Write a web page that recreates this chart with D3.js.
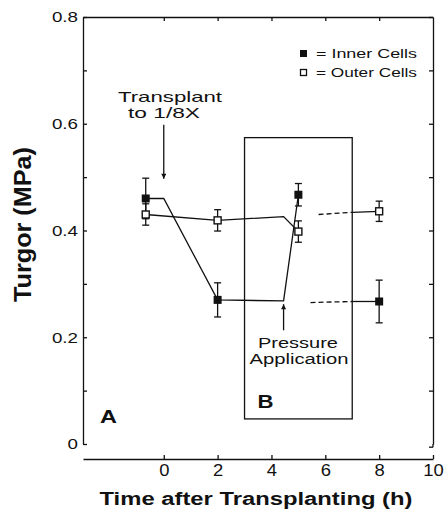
<!DOCTYPE html>
<html>
<head>
<meta charset="utf-8">
<script src="https://cdn.jsdelivr.net/npm/d3@7"></script>
<style>
  body { margin: 0; background: #fff; }
  svg { display: block; font-family: "Liberation Sans", Arial, sans-serif; }
</style>
</head>
<body>
<svg id="chart" width="445" height="513"></svg>
<script>
// Turgor of inner and outer cells after transplanting to 1/8X
const times = [-0.67, 2, 5, 8]
const innerTurgor = [0.46, 0.27, 0.467, 0.267]
const innerErr = [0.038, 0.032, 0.021, 0.04]
const outerTurgor = [0.43, 0.419, 0.398, 0.436]
const outerErr = [0.02, 0.02, 0.02, 0.019]

// connecting lines as drawn in the figure (time, turgor)
const innerLine = [[-0.67, 0.46], [0, 0.46], [2, 0.27], [4.45, 0.268], [5, 0.467]]
const innerDashed = [[5.45, 0.265], [7, 0.267]]
const innerTail = [[7, 0.267], [8, 0.267]]
const outerLine = [[-0.67, 0.43], [2, 0.419], [4.45, 0.426], [5, 0.398]]
const outerDashed = [[5.75, 0.43], [7, 0.434]]
const outerTail = [[7, 0.434], [8, 0.436]]

const boxB = {x0: 3, x1: 7, y0: 0.047, y1: 0.574}
const yTicksMajor = [0, 0.2, 0.4, 0.6, 0.8]
const yTicksMinor = [0, 0.1, 0.2, 0.3, 0.4, 0.5, 0.6, 0.7, 0.8]
const xTicks = [0, 2, 4, 6, 8, 10]
const xTicksTop = [0, 2, 4, 6, 8]

const svg = d3.select("#chart")
const x = d3.scaleLinear().domain([-3, 10]).range([83, 433])
const y = d3.scaleLinear().domain([0, 0.8]).range([444, 17])

// stretch text wide like the scanned figure
const widen = (sel, k) => sel.each(function () {
  const w = this.getComputedTextLength()
  d3.select(this).attr("textLength", w * k).attr("lengthAdjust", "spacingAndGlyphs")
})

const styleAxis = g => {
  g.selectAll("path").attr("stroke", "#111").attr("stroke-width", 1.3)
  g.selectAll("line").attr("stroke", "#111").attr("stroke-width", 1.3)
}

// left axis: ticks inward, labels outside
svg.append("g").attr("transform", `translate(${x(-3)},0)`)
  .call(d3.axisRight(y).tickValues(yTicksMinor).tickSize(4).tickSizeOuter(0).tickFormat(""))
  .call(styleAxis)
const yLab = svg.append("g").attr("transform", `translate(${x(-3)},0)`)
  .call(d3.axisLeft(y).tickValues(yTicksMajor).tickSize(0).tickPadding(5)
    .tickFormat(d => d === 0 ? "0" : d3.format(".1f")(d)))
yLab.select(".domain").remove()
yLab.selectAll("text").attr("font-size", 15).attr("fill", "#111").attr("font-family", "Liberation Sans")
widen(yLab.selectAll("text"), 1.25)

// right axis
svg.append("g").attr("transform", `translate(${x(10)},0)`)
  .call(d3.axisLeft(y).tickValues(yTicksMinor.slice(1)).tickSize(4).tickSizeOuter(0).tickFormat(""))
  .call(styleAxis)
svg.append("line").attr("x1", x(10)).attr("x2", x(10)).attr("y1", y(0)).attr("y2", y(-0.006))
  .attr("stroke", "#111").attr("stroke-width", 1.3)
svg.append("line").attr("x1", x(10)).attr("x2", x(10) - 4).attr("y1", y(-0.006)).attr("y2", y(-0.006))
  .attr("stroke", "#111").attr("stroke-width", 1.3)

// top axis
svg.append("g").attr("transform", `translate(0,${y(0.8)})`)
  .call(d3.axisBottom(x).tickValues(xTicksTop).tickSize(4).tickSizeOuter(0).tickFormat(""))
  .call(styleAxis)

// bottom axis, offset below the frame
const xAxisY = 459
svg.append("g").attr("transform", `translate(0,${xAxisY})`)
  .call(d3.axisTop(x).tickValues(xTicks).tickSize(4).tickSizeOuter(0).tickFormat(""))
  .call(styleAxis)
const xLab = svg.append("g").attr("transform", `translate(0,${xAxisY})`)
  .call(d3.axisBottom(x).tickValues(xTicks).tickSize(0).tickFormat(d3.format("d")))
xLab.select(".domain").remove()
xLab.selectAll("text").attr("font-size", 16).attr("fill", "#111").attr("y", 17).attr("dy", null)
  .attr("font-family", "Liberation Sans")
widen(xLab.selectAll("text"), 1.15)

// box B
svg.append("rect")
  .attr("x", x(boxB.x0)).attr("y", y(boxB.y1))
  .attr("width", x(boxB.x1) - x(boxB.x0)).attr("height", y(boxB.y0) - y(boxB.y1))
  .attr("fill", "none").attr("stroke", "#111").attr("stroke-width", 1.3)

// lines
const line = d3.line().x(d => x(d[0])).y(d => y(d[1]))
const addLine = (pts, dash) => svg.append("path").attr("d", line(pts))
  .attr("fill", "none").attr("stroke", "#111").attr("stroke-width", 1.3)
  .attr("stroke-dasharray", dash ? "5,3" : null)
addLine(innerLine)
addLine(outerLine)
addLine(innerDashed, true)
addLine(innerTail)
addLine(outerDashed, true)
addLine(outerTail)

// error bars
const errBars = (vals, errs) => {
  const g = svg.append("g").attr("stroke", "#111").attr("stroke-width", 1.3)
  times.forEach((t, i) => {
    const lo = y(vals[i] - errs[i]), hi = y(vals[i] + errs[i]), cx = x(t)
    g.append("line").attr("x1", cx).attr("x2", cx).attr("y1", lo).attr("y2", hi)
    g.append("line").attr("x1", cx - 3.5).attr("x2", cx + 3.5).attr("y1", lo).attr("y2", lo)
    g.append("line").attr("x1", cx - 3.5).attr("x2", cx + 3.5).attr("y1", hi).attr("y2", hi)
  })
}
errBars(innerTurgor, innerErr)
errBars(outerTurgor, outerErr)

const ms = 8
svg.append("g").selectAll("rect").data(times).join("rect")
  .attr("x", d => x(d) - ms / 2).attr("y", (d, i) => y(innerTurgor[i]) - ms / 2)
  .attr("width", ms).attr("height", ms).attr("fill", "#111")
svg.append("g").selectAll("rect").data(times).join("rect")
  .attr("x", d => x(d) - ms / 2 + 0.5).attr("y", (d, i) => y(outerTurgor[i]) - ms / 2 + 0.5)
  .attr("width", ms - 1).attr("height", ms - 1).attr("fill", "#fff")
  .attr("stroke", "#111").attr("stroke-width", 1.4)

// arrows
svg.append("defs").append("marker").attr("id", "ah")
  .attr("viewBox", "0 0 10 10").attr("refX", 10).attr("refY", 5)
  .attr("markerWidth", 8).attr("markerHeight", 5).attr("markerUnits", "userSpaceOnUse")
  .attr("orient", "auto")
  .append("path").attr("d", "M0,0L10,5L0,10Z").attr("fill", "#111")
const arrow = (t, v0, v1) => svg.append("line")
  .attr("x1", x(t)).attr("x2", x(t)).attr("y1", y(v0)).attr("y2", y(v1))
  .attr("stroke", "#111").attr("stroke-width", 1.3).attr("marker-end", "url(#ah)")
arrow(0, 0.598, 0.497)
arrow(4.45, 0.213, 0.262)

// annotations
const label = (txt, px, py, size, w, opts = {}) => {
  const t = svg.append("text").attr("x", px).attr("y", py)
    .attr("font-size", size).attr("fill", "#111")
    .attr("text-anchor", opts.anchor || "middle")
    .attr("font-weight", opts.bold ? "bold" : null)
    .text(txt)
  if (w) t.attr("textLength", w).attr("lengthAdjust", "spacingAndGlyphs")
  return t
}
label("Transplant", 170, 102, 15, 104)
label("to 1/8X", 164, 118, 15, 72)
label("Pressure", 298, 348, 14, 80)
label("Application", 299, 364, 14, 99)
label("A", 108.5, 423, 19, 17, {bold: true})
label("B", 265.5, 408, 19, 16, {bold: true})

// legend
svg.append("rect").attr("x", 300).attr("y", 50).attr("width", 7).attr("height", 7).attr("fill", "#111")
svg.append("rect").attr("x", 300.5).attr("y", 69.5).attr("width", 6).attr("height", 6)
  .attr("fill", "#fff").attr("stroke", "#111").attr("stroke-width", 1.3)
label("= Inner Cells", 316, 57.5, 13, 101, {anchor: "start"})
label("= Outer Cells", 316, 77, 13, 101, {anchor: "start"})

// axis titles
label("Time after Transplanting (h)", 256, 505, 18, 313, {bold: true})
svg.append("text")
  .attr("transform", `translate(31,224.5) scale(1.35,1) rotate(-90)`)
  .attr("text-anchor", "middle").attr("font-size", 18).attr("font-weight", "bold")
  .attr("fill", "#111").attr("textLength", 155).attr("lengthAdjust", "spacingAndGlyphs")
  .text("Turgor (MPa)")
</script>
</body>
</html>
